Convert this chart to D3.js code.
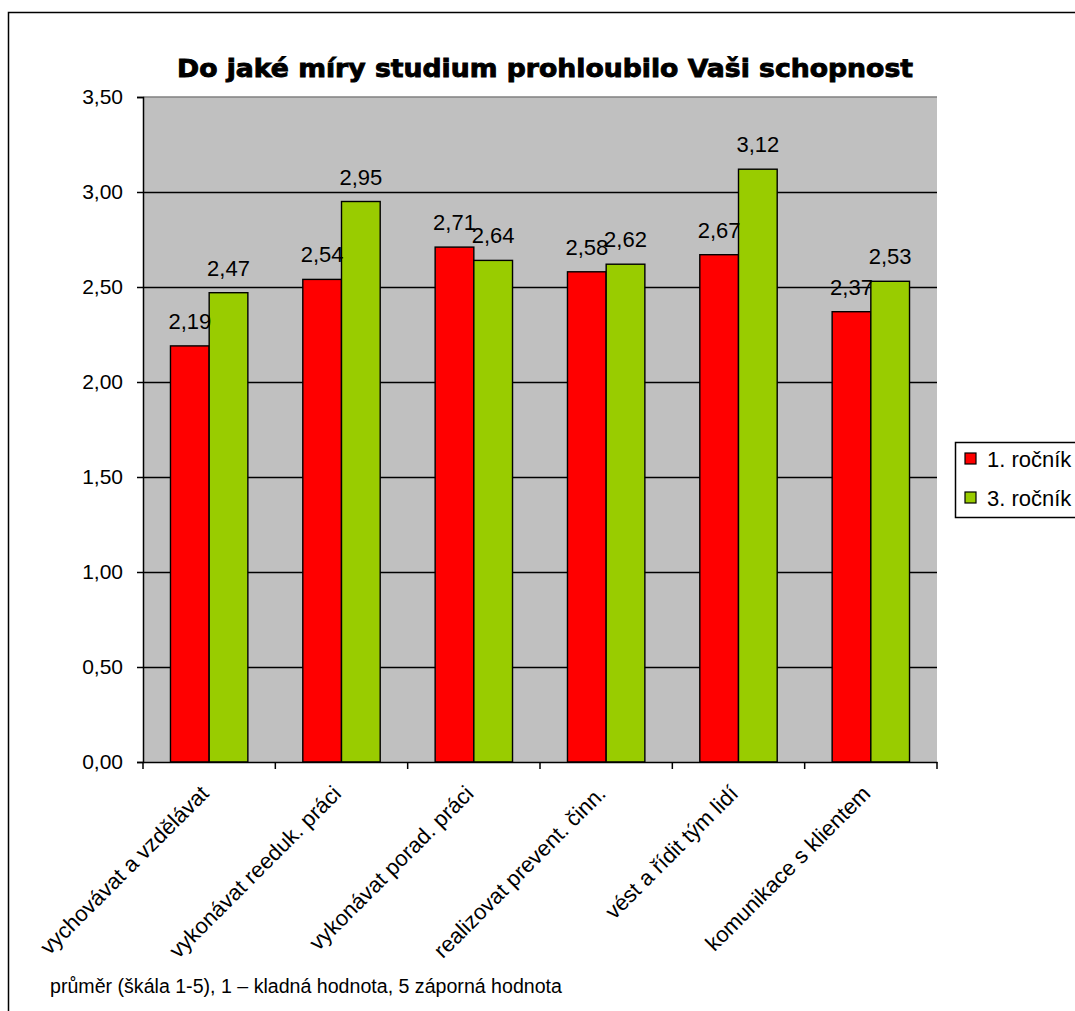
<!DOCTYPE html>
<html lang="cs">
<head>
<meta charset="utf-8">
<title>Do jaké míry studium prohloubilo Vaši schopnost</title>
<script src="https://d3js.org/d3.v7.min.js"></script>
<style>
  body { margin: 0; background: #fff; }
  svg text { font-family: "Liberation Sans", Arial, sans-serif; fill: #000; }
  .title { font-family: "DejaVu Sans", sans-serif; font-weight: 900; stroke: #000; stroke-width: 0.9px; }
</style>
</head>
<body>
<script>
  // data
  var categories = ["vychovávat a vzdělávat", "vykonávat reeduk. práci", "vykonávat porad. práci",
                    "realizovat prevent. činn.", "vést a řídit tým lidí", "komunikace s klientem"];
  var seriesNames = ["1. ročník", "3. ročník"];
  var rocnik1 = [2.19, 2.54, 2.71, 2.58, 2.67, 2.37];
  var rocnik3 = [2.47, 2.95, 2.64, 2.62, 3.12, 2.53];
  var yTicks = [0, 0.5, 1, 1.5, 2, 2.5, 3, 3.5];
  var colors = ["#ff0000", "#99cc00"];

  var W = 1075, H = 1011;
  var plotL = 143, plotR = 937, plotT = 97, plotB = 762;

  var fmt = function(v) { return d3.format(".2f")(v).replace(".", ","); };

  var svg = d3.select("body").append("svg")
      .attr("width", W).attr("height", H);

  // outer frame (runs off the right and bottom edge)
  svg.append("rect")
      .attr("x", 8.5).attr("y", 12.5)
      .attr("width", 1200).attr("height", 1200)
      .attr("fill", "#fff")
      .attr("stroke", "#000").attr("stroke-width", 1.5);

  var x0 = d3.scaleBand().domain(categories).range([plotL, plotR]).paddingInner(0).paddingOuter(0);
  var x1 = d3.scaleBand().domain(seriesNames).range([0, x0.bandwidth()]).paddingInner(0).paddingOuter(0.71);
  var y = d3.scaleLinear().domain([0, 3.5]).range([plotB, plotT]);

  // plot area
  svg.append("rect")
      .attr("x", plotL).attr("y", plotT)
      .attr("width", plotR - plotL).attr("height", plotB - plotT)
      .attr("fill", "#c0c0c0");
  svg.append("line")
      .attr("x1", plotL).attr("x2", plotR)
      .attr("y1", y(3.5)).attr("y2", y(3.5))
      .attr("stroke", "#808080").attr("stroke-width", 1.5);

  // gridlines
  svg.append("g").selectAll("line")
      .data(yTicks.filter(function(d) { return d > 0 && d < 3.5; }))
      .enter().append("line")
      .attr("x1", plotL).attr("x2", plotR)
      .attr("y1", function(d) { return Math.round(y(d)) + 0.5; })
      .attr("y2", function(d) { return Math.round(y(d)) + 0.5; })
      .attr("stroke", "#000").attr("stroke-width", 1.3);

  // bars
  var rows = categories.map(function(c, i) { return { cat: c, vals: [rocnik1[i], rocnik3[i]] }; });
  var groups = svg.append("g").selectAll("g")
      .data(rows).enter().append("g")
      .attr("transform", function(d) { return "translate(" + x0(d.cat) + ",0)"; });

  groups.selectAll("rect")
      .data(function(d) { return d.vals.map(function(v, j) { return { s: seriesNames[j], v: v, j: j }; }); })
      .enter().append("rect")
      .attr("x", function(d) { return x1(d.s); })
      .attr("y", function(d) { return y(d.v); })
      .attr("width", x1.bandwidth())
      .attr("height", function(d) { return y(0) - y(d.v); })
      .attr("fill", function(d) { return colors[d.j]; })
      .attr("stroke", "#000").attr("stroke-width", 1.4);

  groups.selectAll("text")
      .data(function(d) { return d.vals.map(function(v, j) { return { s: seriesNames[j], v: v }; }); })
      .enter().append("text")
      .attr("x", function(d) { return x1(d.s) + x1.bandwidth() / 2; })
      .attr("y", function(d) { return y(d.v) - 17; })
      .attr("text-anchor", "middle")
      .style("font-size", "22px")
      .text(function(d) { return fmt(d.v); });

  // y axis
  var yAxis = svg.append("g")
      .attr("transform", "translate(" + plotL + ",0)")
      .call(d3.axisLeft(y).tickValues(yTicks).tickSize(6).tickPadding(14).tickFormat(fmt));
  yAxis.select(".domain").attr("stroke", "#000").attr("stroke-width", 1.5);
  yAxis.selectAll(".tick line").attr("stroke", "#000").attr("stroke-width", 1.5);
  yAxis.selectAll(".tick text").style("font-size", "21px").attr("font-family", null);

  // x axis
  var xAxis = svg.append("g")
      .attr("transform", "translate(0," + plotB + ")")
      .call(d3.axisBottom(x0).tickSize(0).tickFormat(""));
  xAxis.select(".domain").attr("stroke", "#000").attr("stroke-width", 1.5);
  var edges = x0.domain().map(function(c) { return x0(c); }).concat([plotR]);
  xAxis.selectAll("line.edge")
      .data(edges).enter().append("line")
      .attr("class", "edge")
      .attr("x1", function(d) { return d; }).attr("x2", function(d) { return d; })
      .attr("y1", 0).attr("y2", 7)
      .attr("stroke", "#000").attr("stroke-width", 1.5);

  svg.append("g").selectAll("text")
      .data(categories).enter().append("text")
      .attr("text-anchor", "end")
      .attr("transform", function(d) {
        return "translate(" + (x0(d) + x0.bandwidth() / 2 + 1) + "," + 795 + ") rotate(-45)";
      })
      .style("font-size", "22px")
      .text(function(d) { return d; });

  // title
  svg.append("text")
      .attr("class", "title")
      .attr("x", 545).attr("y", 77)
      .attr("text-anchor", "middle")
      .attr("textLength", 736)
      .attr("lengthAdjust", "spacingAndGlyphs")
      .style("font-size", "25px")
      .text("Do jaké míry studium prohloubilo Vaši schopnost");

  // legend
  var legend = svg.append("g").attr("transform", "translate(955,442)");
  legend.append("rect")
      .attr("x", 0.5).attr("y", 0.5)
      .attr("width", 200).attr("height", 75)
      .attr("fill", "#fff").attr("stroke", "#000").attr("stroke-width", 1.5);
  legend.selectAll("rect.key")
      .data(seriesNames).enter().append("rect")
      .attr("class", "key")
      .attr("x", 10).attr("y", function(d, i) { return 11 + i * 39; })
      .attr("width", 11).attr("height", 11)
      .attr("fill", function(d, i) { return colors[i]; })
      .attr("stroke", "#000").attr("stroke-width", 1.2);
  legend.selectAll("text")
      .data(seriesNames).enter().append("text")
      .attr("x", 32).attr("y", function(d, i) { return 17 + i * 39; })
      .attr("dy", "0.35em")
      .style("font-size", "22px")
      .text(function(d) { return d; });

  // footnote
  svg.append("text")
      .attr("x", 50).attr("y", 993)
      .style("font-size", "19.6px")
      .text("průměr (škála 1-5), 1 – kladná hodnota, 5 záporná hodnota");
</script>
</body>
</html>
